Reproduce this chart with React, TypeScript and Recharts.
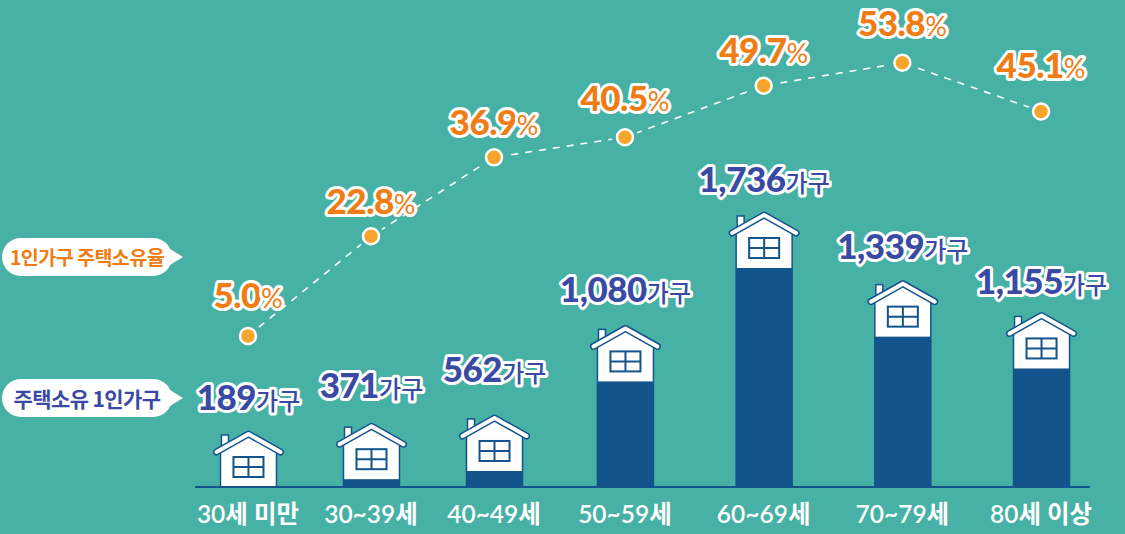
import { Bar, ComposedChart, LabelList, Line, XAxis, YAxis } from 'recharts';

const ageGroups = ['30세 미만', '30~39세', '40~49세', '50~59세', '60~69세', '70~79세', '80세 이상'];
const ownerHouseholds = [189, 371, 562, 1080, 1736, 1339, 1155];
const ownershipRates = [5.0, 22.8, 36.9, 40.5, 49.7, 53.8, 45.1];

const rows = ageGroups.map((age, i) => ({
  slot: i,
  age,
  households: ownerHouseholds[i],
  rate: ownershipRates[i],
}));

const WIDTH = 1125;
const HEIGHT = 534;
const TEAL = '#46b1a4';
const NAVY = '#14548c';
const INDIGO = '#3a4aa4';
const ORANGE = '#f07c14';
const DOT = '#f6a52c';
const LABEL_FONT = "Lato, 'Noto Sans CJK KR', sans-serif";

// labels in the picture are hand placed, these lift them off the default spot
const householdLabelLift = [0, 4, 12, 2, -1, 1, -3];
const rateLabelLift = [2, -4, -4, 0, -3, 1, 7];

// the picture's axes are not even, so both use a piecewise scale
function knotScale(knots: number[], stops: number[]) {
  let dom = [knots[0], knots[knots.length - 1]];
  let rng = [0, 1];
  const scale: any = (v: number) => {
    let i = 0;
    while (i < knots.length - 2 && v > knots[i + 1]) i++;
    const t = stops[i] + ((v - knots[i]) / (knots[i + 1] - knots[i])) * (stops[i + 1] - stops[i]);
    return rng[0] + t * (rng[1] - rng[0]);
  };
  scale.domain = (d?: number[]) => {
    if (!d) return dom;
    dom = d;
    return scale;
  };
  scale.range = (r?: number[]) => {
    if (!r) return rng;
    rng = r;
    return scale;
  };
  scale.copy = () => knotScale(knots, stops).domain(dom).range(rng);
  return scale;
}

const slotScale = knotScale([0, 2, 3, 6], [0.0592, 0.3341, 0.4804, 0.9453]);
const householdScale = knotScale([0, 189, 562, 1736], [0, 0, 0.0329, 0.4497]);

function House(props: any) {
  const { x, y, width, height } = props;
  const cx = x + width / 2;
  const top = y - 55;
  const base = y + height;
  const roof = `M${cx - 32} ${top + 20} L${cx} ${top + 2} L${cx + 32} ${top + 20}`;
  return (
    <g>
      <rect x={cx - 27} y={top + 3} width={7} height={12} fill="#fff" stroke={NAVY} strokeWidth={1.5} />
      <rect x={cx - 28} y={top + 16} width={56} height={Math.max(base, y) - top - 16} fill="#fff" stroke={NAVY} strokeWidth={1.5} />
      <rect x={cx - 28} y={y} width={56} height={height} fill={NAVY} />
      <path d={`${roof} Z`} fill="#fff" />
      <path d={roof} fill="none" stroke={NAVY} strokeWidth={7} strokeLinecap="round" strokeLinejoin="round" />
      <path d={roof} fill="none" stroke="#fff" strokeWidth={4} strokeLinecap="round" strokeLinejoin="round" />
      <rect x={cx - 15} y={top + 25} width={30} height={20} fill="#fff" stroke={NAVY} strokeWidth={2} />
      <path d={`M${cx} ${top + 25} V${top + 45} M${cx - 15} ${top + 35} H${cx + 15}`} stroke={NAVY} strokeWidth={2} />
    </g>
  );
}

function RateDot(props: any) {
  const { cx, cy } = props;
  return (
    <g>
      <circle cx={cx} cy={cy} r={13} fill={TEAL} />
      <circle cx={cx} cy={cy} r={8} fill={DOT} stroke="#fff" strokeWidth={2.5} />
    </g>
  );
}

const halo = { stroke: '#fff', strokeWidth: 6, strokeLinejoin: 'round' as const, paintOrder: 'stroke' };

function HouseholdLabel(props: any) {
  const { x, y, width, value, index } = props;
  return (
    <text x={x + width / 2} y={y - 77 - householdLabelLift[index]} textAnchor="middle" fontFamily={LABEL_FONT} fill={INDIGO} style={halo}>
      <tspan fontSize={35} fontWeight={900} letterSpacing={-0.5}>{value.toLocaleString('en-US')}</tspan>
      <tspan fontSize={24} fontWeight={500}>가구</tspan>
    </text>
  );
}

function RateLabel(props: any) {
  const { x, y, value, index } = props;
  return (
    <text x={x} y={y - 26 - rateLabelLift[index]} textAnchor="middle" fontFamily={LABEL_FONT} fill={ORANGE} style={halo}>
      <tspan fontSize={35} fontWeight={900} letterSpacing={-0.5}>{value.toFixed(1)}</tspan>
      <tspan fontSize={27} fontWeight={400}>%</tspan>
    </text>
  );
}

function Callout({ top, color, text, size }: { top: number; color: string; text: string; size: number }) {
  return (
    <div style={{ position: 'absolute', left: 2, top, width: 170, height: 38 }}>
      <div
        style={{
          width: '100%',
          height: '100%',
          borderRadius: 19,
          background: '#fff',
          color,
          font: `700 ${size}px 'Noto Sans CJK KR', sans-serif`,
          letterSpacing: -0.6,
          lineHeight: '38px',
          textAlign: 'center',
          whiteSpace: 'nowrap',
        }}
      >
        {text}
      </div>
      <div
        style={{
          position: 'absolute',
          left: 168,
          top: 11,
          borderTop: '8px solid transparent',
          borderBottom: '8px solid transparent',
          borderLeft: '13px solid #fff',
        }}
      />
    </div>
  );
}

export default function App() {
  return (
    <div style={{ position: 'fixed', left: 0, top: 0, width: WIDTH, height: HEIGHT, background: TEAL, overflow: 'hidden' }}>
      <ComposedChart width={WIDTH} height={HEIGHT} data={rows} margin={{ top: 0, right: 35, bottom: 0, left: 195 }}>
        <XAxis
          dataKey="slot"
          type="number"
          domain={[0, 6]}
          scale={slotScale}
          ticks={[0, 1, 2, 3, 4, 5, 6]}
          tickFormatter={(i: number) => ageGroups[i]}
          interval={0}
          height={47}
          tickLine={false}
          tickMargin={13}
          axisLine={{ stroke: NAVY, strokeWidth: 2 }}
          tick={{ fill: '#fff', fontSize: 24.5, fontWeight: 600, fontFamily: LABEL_FONT }}
        />
        <YAxis yAxisId="households" hide domain={[0, 3285]} scale={householdScale} />
        <YAxis yAxisId="rate" hide orientation="right" domain={[-21.96, 65]} />
        <Bar yAxisId="households" dataKey="households" barSize={56} shape={<House />} isAnimationActive={false}>
          <LabelList dataKey="households" content={<HouseholdLabel />} />
        </Bar>
        <Line
          yAxisId="rate"
          dataKey="rate"
          type="linear"
          stroke="#fff"
          strokeWidth={1.6}
          strokeDasharray="7 7"
          dot={<RateDot />}
          activeDot={false}
          isAnimationActive={false}
        >
          <LabelList dataKey="rate" content={<RateLabel />} />
        </Line>
      </ComposedChart>
      <Callout top={238} color={ORANGE} text="1인가구 주택소유율" size={19.6} />
      <Callout top={379} color={INDIGO} text="주택소유 1인가구" size={21} />
    </div>
  );
}
